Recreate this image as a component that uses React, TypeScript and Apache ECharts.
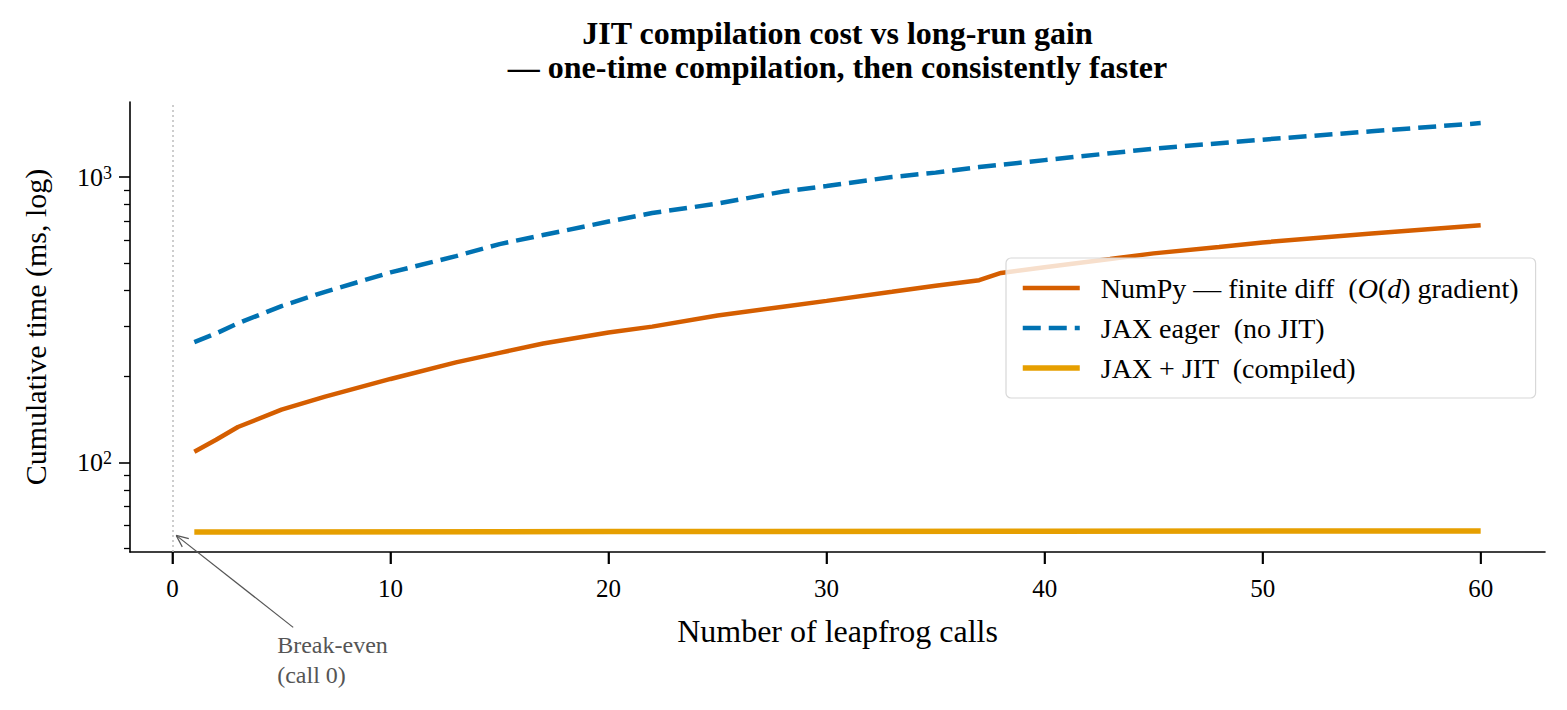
import React, { useEffect, useRef } from "react";
import * as echarts from "echarts";

// ---------- data ----------
const TITLE_LINE_1 = "JIT compilation cost vs long-run gain";
const TITLE_LINE_2 = "— one-time compilation, then consistently faster";
const X_NAME = "Number of leapfrog calls";
const Y_NAME = "Cumulative time (ms, log)";

const X_TICKS = [0, 10, 20, 30, 40, 50, 60];
const Y_MAJOR_TICKS = [100, 1000];
const Y_MINOR_TICKS = [50, 60, 70, 80, 90, 200, 300, 400, 500, 600, 700, 800, 900];
const X_RANGE = [-1.95, 62.95];
const Y_RANGE = [48.5, 1832];

const SERIES_NAMES = [
  "NumPy — finite diff  (O(d) gradient)",
  "JAX eager  (no JIT)",
  "JAX + JIT  (compiled)",
];

const NUMPY_X = [1, 2, 3, 5, 7, 10, 13, 15, 17, 20, 22, 25, 28, 30, 33, 35, 37, 38, 40, 43, 45, 48, 50, 55, 60];
const NUMPY_Y = [109, 120, 133, 153, 170, 196, 224, 242, 261, 285, 299, 327, 351, 368, 396, 416, 435, 461, 483, 516, 540, 569, 590, 634, 678];

const EAGER_X = [1, 2, 3, 5, 7, 10, 13, 15, 17, 20, 22, 25, 28, 30, 33, 35, 37, 40, 45, 50, 55, 60];
const EAGER_Y = [264, 283, 307, 353, 396, 463, 528, 582, 626, 698, 748, 807, 889, 930, 1000, 1036, 1084, 1146, 1257, 1352, 1446, 1545];

const JIT_X = [1, 20, 40, 60];
const JIT_Y = [57.0, 57.2, 57.3, 57.5];

const BREAK_EVEN_X = 0;
const ANNOT_XY = [0.1, 56];
const ANNOT_TEXT = "Break-even\n(call 0)";

// ---------- style ----------
const FONT = "'Liberation Serif', 'Times New Roman', Times, serif";
const C_NUMPY = "#D55E00";
const C_EAGER = "#0072B2";
const C_JIT = "#E69F00";

const zip = (xs: number[], ys: number[]) => xs.map((x, i) => [x, ys[i]]);

const legendFmt: Record<string, string> = {
  [SERIES_NAMES[0]]: "{sp|}{t|NumPy — finite diff  (}{i|O}{t|(}{i|d}{t|) gradient)}",
  [SERIES_NAMES[1]]: "{sp|}{t|JAX eager  (no JIT)}",
  [SERIES_NAMES[2]]: "{sp|}{t|JAX + JIT  (compiled)}",
};

const W = 1567;
const H = 710;

export default function App() {
  const ref = useRef<HTMLDivElement>(null);
  useEffect(() => {
    const chart = echarts.init(ref.current!, null, { renderer: "svg" });
    const ls = () => ({ color: "#000", width: 1.6 });
    const option: any = {
      animation: false,
      backgroundColor: "#fff",
      title: {
        text: TITLE_LINE_1 + "\n" + TITLE_LINE_2,
        left: 837.5,
        top: 16,
        padding: 0,
        textAlign: "center",
        textStyle: {
          fontFamily: FONT,
          fontWeight: "bold",
          fontSize: 32,
          lineHeight: 34,
          color: "#000",
        },
      },
      grid: { left: 130, right: 22, top: 102, bottom: 158, containLabel: false },
      legend: {
        orient: "vertical",
        left: 1006,
        top: 258,
        padding: [16, 17, 16, 14],
        itemGap: 12,
        itemWidth: 57,
        itemHeight: 14,
        selectedMode: false,
        backgroundColor: "rgba(255,255,255,0.8)",
        borderColor: "#d8d8d8",
        borderWidth: 1.2,
        borderRadius: 5,
        data: [
          { name: SERIES_NAMES[0], itemStyle: { opacity: 0 }, lineStyle: { width: 4.5 } },
          { name: SERIES_NAMES[1], itemStyle: { opacity: 0 }, lineStyle: { width: 4.5 } },
          { name: SERIES_NAMES[2], itemStyle: { opacity: 0 }, lineStyle: { width: 5.5 } },
        ],
        formatter: (name: string) => legendFmt[name],
        textStyle: {
          fontFamily: FONT,
          fontSize: 28,
          color: "#000",
          rich: {
            sp: { width: 16 },
            t: { fontFamily: FONT, fontSize: 28, lineHeight: 28, color: "#000" },
            i: { fontFamily: FONT, fontSize: 28, lineHeight: 28, fontStyle: "italic", color: "#000" },
          },
        },
      },
      xAxis: {
        type: "value",
        min: X_RANGE[0],
        max: X_RANGE[1],
        name: X_NAME,
        nameLocation: "middle",
        nameGap: 63,
        nameTextStyle: { fontFamily: FONT, fontSize: 32, color: "#000" },
        axisLine: { show: true, onZero: false, lineStyle: ls() },
        axisTick: { show: true, customValues: X_TICKS, length: 12, lineStyle: ls() },
        axisLabel: { show: true, customValues: X_TICKS, margin: 24, fontFamily: FONT, fontSize: 25, color: "#000" },
        splitLine: { show: false },
      },
      yAxis: [
        {
          type: "log",
          logBase: 10,
          min: Y_RANGE[0],
          max: Y_RANGE[1],
          position: "left",
          name: Y_NAME,
          nameLocation: "middle",
          nameGap: 80,
          nameTextStyle: { fontFamily: FONT, fontSize: 30, color: "#000" },
          axisLine: { show: true, onZero: false, lineStyle: ls() },
          axisTick: { show: true, customValues: Y_MAJOR_TICKS, length: 11, lineStyle: ls() },
          axisLabel: {
            customValues: Y_MAJOR_TICKS,
            margin: 18,
            formatter: (v: number) => `{b|10}{s|${Math.round(Math.log10(v))}}`,
            rich: {
              b: { fontFamily: FONT, fontSize: 26, lineHeight: 26, color: "#000" },
              s: { fontFamily: FONT, fontSize: 18, lineHeight: 18, verticalAlign: "top", color: "#000" },
            },
          },
          splitLine: { show: false },
          minorTick: { show: false },
        },
        {
          type: "log",
          logBase: 10,
          min: Y_RANGE[0],
          max: Y_RANGE[1],
          position: "left",
          axisLine: { show: false, onZero: false },
          axisTick: { show: true, customValues: Y_MINOR_TICKS, length: 6, lineStyle: { color: "#000", width: 1.3 } },
          axisLabel: { show: false },
          splitLine: { show: false },
        },
      ],
      series: [
        {
          name: SERIES_NAMES[0],
          type: "line",
          data: zip(NUMPY_X, NUMPY_Y),
          symbol: "none",
          lineStyle: { color: C_NUMPY, width: 4.5 },
          itemStyle: { color: C_NUMPY },
          z: 3,
        },
        {
          name: SERIES_NAMES[1],
          type: "line",
          data: zip(EAGER_X, EAGER_Y),
          symbol: "none",
          lineStyle: { color: C_EAGER, width: 4.5, type: [18, 8] },
          itemStyle: { color: C_EAGER },
          z: 3,
        },
        {
          name: SERIES_NAMES[2],
          type: "line",
          data: zip(JIT_X, JIT_Y),
          symbol: "none",
          lineStyle: { color: C_JIT, width: 5.5 },
          itemStyle: { color: C_JIT },
          z: 3,
          markLine: {
            silent: true,
            symbol: ["none", "none"],
            label: { show: false },
            lineStyle: { color: "#bdbdbd", type: [2, 3], width: 1.5, opacity: 1 },
            emphasis: { disabled: true },
            data: [{ xAxis: BREAK_EVEN_X, lineStyle: { color: "#bdbdbd", type: [2, 3], width: 1.5 } }],
          },
        },
      ],
    };
    chart.setOption(option);

    // x-axis major tick marks, positioned through the axis scale
    const tickEls = X_TICKS.map((v) => {
      const pt = chart.convertToPixel({ xAxisIndex: 0, yAxisIndex: 0 }, [v, Y_RANGE[0]]) as number[];
      return {
        type: "rect",
        silent: true,
        shape: { x: pt[0] - 0.9, y: pt[1], width: 1.8, height: 12 },
        style: { fill: "#000" },
        z: 20,
      };
    });

    const p = chart.convertToPixel({ xAxisIndex: 0, yAxisIndex: 0 }, ANNOT_XY) as number[];
    const tip = [p[0] + 1.5, p[1] + 1.2];
    const tail = [tip[0] + 117, tip[1] + 92];
    const dx = tail[0] - tip[0];
    const dy = tail[1] - tip[1];
    const len = Math.hypot(dx, dy);
    const ux = dx / len;
    const uy = dy / len;
    const headLen = 13;
    const ang = (24 * Math.PI) / 180;
    const rot = (a: number) => [ux * Math.cos(a) - uy * Math.sin(a), ux * Math.sin(a) + uy * Math.cos(a)];
    const h1 = rot(ang);
    const h2 = rot(-ang);
    const arrowStyle = { stroke: "#555", lineWidth: 1.2 };
    chart.setOption({
      graphic: [
        ...tickEls,
        { type: "line", silent: true, shape: { x1: tail[0], y1: tail[1], x2: tip[0], y2: tip[1] }, style: arrowStyle, z: 10 },
        { type: "line", silent: true, shape: { x1: tip[0], y1: tip[1], x2: tip[0] + h1[0] * headLen, y2: tip[1] + h1[1] * headLen }, style: arrowStyle, z: 10 },
        { type: "line", silent: true, shape: { x1: tip[0], y1: tip[1], x2: tip[0] + h2[0] * headLen, y2: tip[1] + h2[1] * headLen }, style: arrowStyle, z: 10 },
        {
          type: "text",
          silent: true,
          x: tip[0] + 101,
          y: tip[1] + 95,
          style: {
            text: ANNOT_TEXT,
            fontFamily: FONT,
            fontSize: 24,
            lineHeight: 30,
            fill: "#555",
            textAlign: "left",
            textVerticalAlign: "top",
          },
          z: 10,
        },
      ],
    });
    return () => chart.dispose();
  }, []);
  return <div ref={ref} style={{ position: "absolute", left: 0, top: 0, width: W, height: H }} />;
}
